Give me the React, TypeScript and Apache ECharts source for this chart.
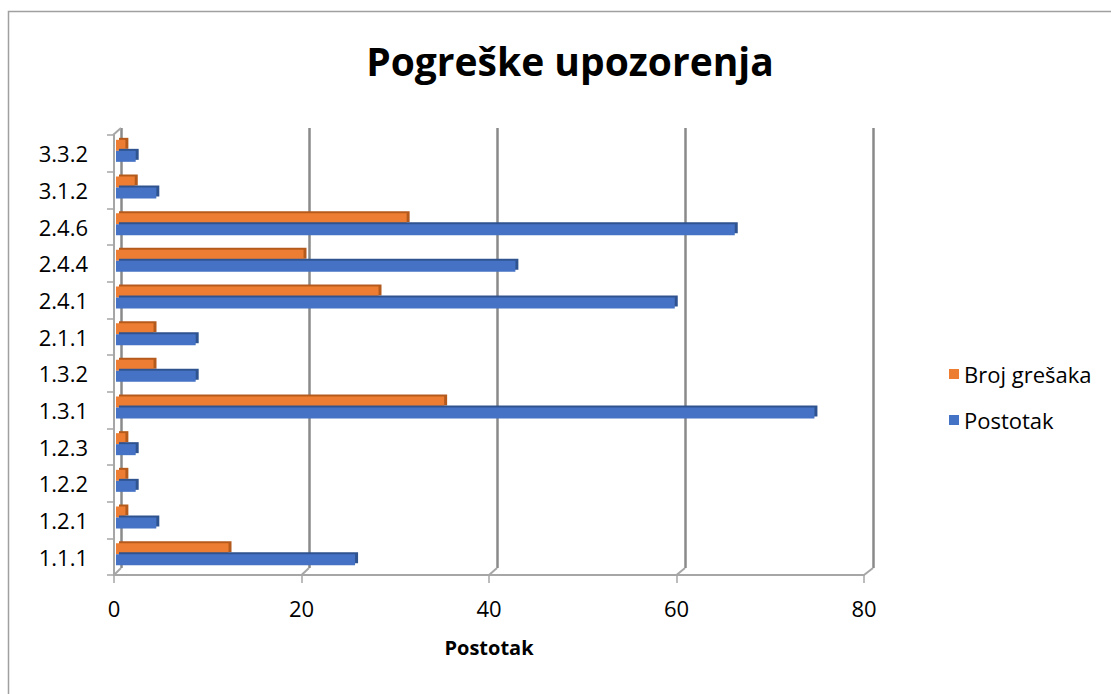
import React, { useEffect, useRef } from "react";
import * as echarts from "echarts";

const categories = ["1.1.1", "1.2.1", "1.2.2", "1.2.3", "1.3.1", "1.3.2", "2.1.1", "2.4.1", "2.4.4", "2.4.6", "3.1.2", "3.3.2"];
const brojGresaka = [12, 1, 1, 1, 35, 4, 4, 28, 20, 31, 2, 1];
const postotak = [25.5, 4.3, 2.1, 2.1, 74.5, 8.5, 8.5, 59.6, 42.6, 66.0, 4.3, 2.1];
const xTicks = [0, 20, 40, 60, 80];
const titleText = "Pogreške upozorenja";
const xAxisName = "Postotak";
const seriesNames = ["Broj grešaka", "Postotak"];

const FONT = "'Open Sans', 'Noto Sans', sans-serif";

export default function App() {
  const ref = useRef<HTMLDivElement>(null);
  useEffect(() => {
    if (!ref.current) return;
    const chart = echarts.init(ref.current, null, { renderer: "svg" });
    const front = { left: 114, top: 135, width: 750, height: 440 };
    const back = { left: 121, top: 128, width: 752, height: 440 };
    const bars = { left: 116, top: 132.5, width: 750, height: 440 };
    const axisGray = "#a6a6a6";
    const gridGray = "#8a8a8a";
    const option: any = {
      animation: false,
      backgroundColor: "#ffffff",
      title: {
        text: titleText,
        left: 565,
        textAlign: "center",
        top: 36,
        textStyle: { fontFamily: FONT, fontSize: 39, fontWeight: "bold", color: "#000" },
      },
      legend: {
        orient: "vertical",
        left: 944,
        top: 358,
        itemWidth: 10,
        itemHeight: 10,
        itemGap: 24,
        icon: "rect",
        data: seriesNames,
        textStyle: { fontFamily: FONT, fontSize: 22, color: "#000" },
      },
      grid: [
        { ...front, containLabel: false },
        { ...back, containLabel: false },
        { ...bars, containLabel: false },
      ],
      xAxis: [
        {
          gridIndex: 0,
          type: "value",
          min: 0,
          max: 80,
          interval: 20,
          axisLine: { show: true, lineStyle: { color: axisGray, width: 2 } },
          axisTick: { show: true, length: 8, lineStyle: { color: axisGray, width: 1.5 } },
          splitLine: { show: false },
          axisLabel: { fontFamily: FONT, fontSize: 22, color: "#000", margin: 22 },
          name: xAxisName,
          nameLocation: "middle",
          nameGap: 62,
          nameTextStyle: { fontFamily: FONT, fontSize: 20, fontWeight: "bold", color: "#000" },
        },
        {
          gridIndex: 1,
          type: "value",
          min: 0,
          max: 80,
          interval: 20,
          axisLine: { show: false },
          axisTick: { show: false },
          axisLabel: { show: false },
          splitLine: { show: true, lineStyle: { color: gridGray, width: 2.5 } },
        },
        {
          gridIndex: 2,
          type: "value",
          min: 0,
          max: 80,
          interval: 20,
          show: false,
        },
      ],
      yAxis: [
        {
          gridIndex: 0,
          type: "category",
          data: categories,
          axisLine: { show: true, lineStyle: { color: axisGray, width: 2 } },
          axisTick: { show: true, length: 7, lineStyle: { color: axisGray, width: 1.5 } },
          axisLabel: { fontFamily: FONT, fontSize: 22, color: "#000", margin: 26 },
        },
        {
          gridIndex: 1,
          type: "category",
          data: categories,
          show: false,
        },
        {
          gridIndex: 2,
          type: "category",
          data: categories,
          show: false,
        },
      ],
      series: [
        {
          name: seriesNames[0],
          type: "bar",
          xAxisIndex: 2,
          yAxisIndex: 2,
          data: brojGresaka,
          barWidth: 11,
          barGap: "0%",
          itemStyle: {
            color: "#ED7D31",
            shadowColor: "#b45a1f",
            shadowBlur: 0,
            shadowOffsetX: 3,
            shadowOffsetY: -2,
          },
        },
        {
          name: seriesNames[1],
          type: "bar",
          xAxisIndex: 2,
          yAxisIndex: 2,
          data: postotak,
          barWidth: 11,
          barGap: "0%",
          itemStyle: {
            color: "#4472C4",
            shadowColor: "#2f528f",
            shadowBlur: 0,
            shadowOffsetX: 3,
            shadowOffsetY: -2,
          },
        },
      ],
    };
    chart.setOption(option);

    const fx = (v: number) => chart.convertToPixel({ xAxisIndex: 0 } as any, v) as number;
    const bx = (v: number) => chart.convertToPixel({ xAxisIndex: 1 } as any, v) as number;
    const frontBottom = front.top + front.height;
    const backBottom = back.top + back.height;
    const graphics: any[] = [
      {
        type: "rect",
        shape: { x: 8.5, y: 11.5, width: 1300, height: 900 },
        style: { fill: "none", stroke: "#a0a0a0", lineWidth: 1.5 },
        silent: true,
      },
      {
        type: "line",
        shape: { x1: front.left - 1, y1: front.top, x2: back.left, y2: back.top },
        style: { stroke: axisGray, lineWidth: 2 },
        silent: true,
      },
    ];
    xTicks.forEach((v) => {
      graphics.push({
        type: "line",
        shape: { x1: bx(v), y1: backBottom, x2: fx(v), y2: frontBottom },
        style: { stroke: axisGray, lineWidth: 2 },
        silent: true,
      });
    });
    chart.setOption({ graphic: graphics });

    return () => chart.dispose();
  }, []);
  return (
    <div
      ref={ref}
      style={{ position: "fixed", left: 0, top: 0, width: 1111, height: 694, background: "#fff" }}
    />
  );
}
